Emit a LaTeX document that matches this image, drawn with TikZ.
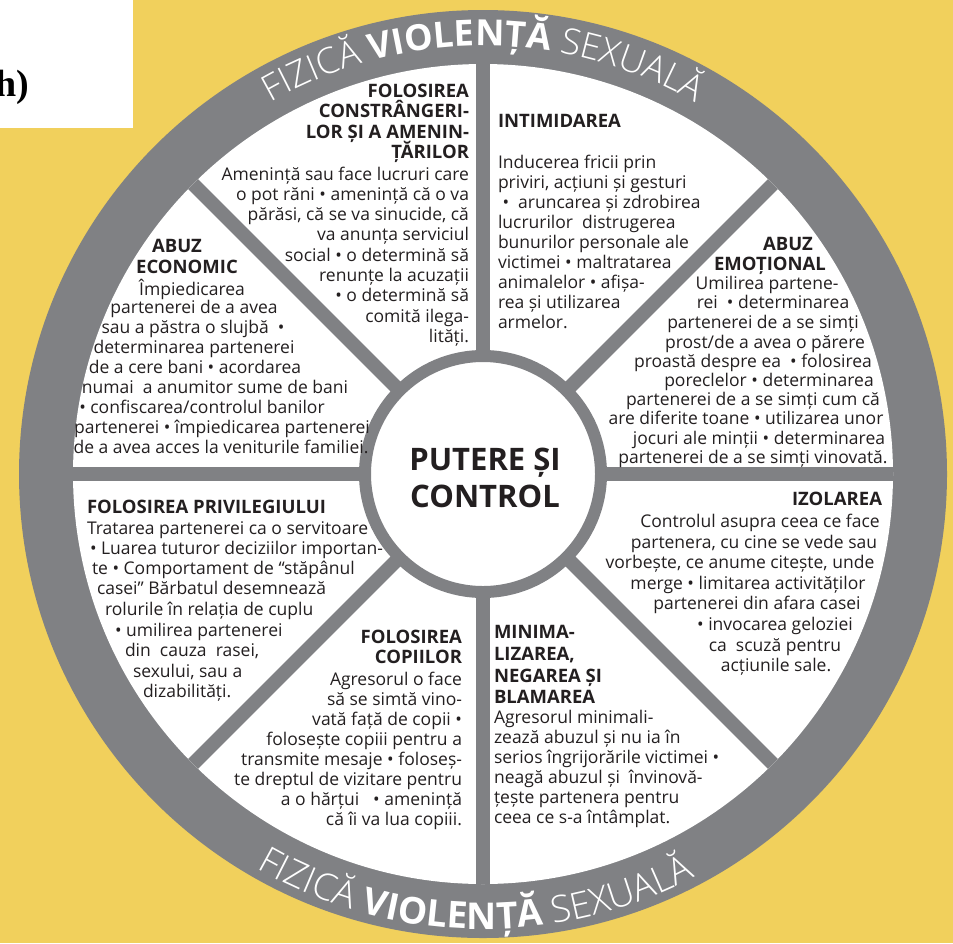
\documentclass[tikz,border=0pt]{standalone}
\usepackage{fontspec}
\setmainfont{Open Sans}
\newfontfamily\serifh{Liberation Serif}
\IfFontExistsTF{Open Sans Light}{\newfontfamily\ringlightfam{Open Sans Light}}{\newfontfamily\ringlightfam{Open Sans}}
\usetikzlibrary{decorations.text}
\definecolor{bgyellow}{RGB}{241,208,92}
\definecolor{ringgray}{RGB}{128,129,132}
\definecolor{ink}{RGB}{35,31,32}
\newcommand\ringL{\ringlightfam\fontsize{36}{36}\selectfont}
\newcommand\ringB{\normalfont\fontsize{36}{36}\selectfont\bfseries}
\newcommand\ringLL{\ringlightfam\fontsize{37}{37}\selectfont}
\newcommand\ringBB{\normalfont\fontsize{37}{37}\selectfont\bfseries}
\begin{document}
\begin{tikzpicture}[x=1pt,y=1pt,
  bd/.style={font=\fontsize{17.5}{20}\selectfont, text=ink, inner sep=0pt, outer sep=0pt},
  hd/.style={font=\fontsize{18.5}{20}\selectfont\bfseries, text=ink, inner sep=0pt, outer sep=0pt},
  spoke/.style={draw=ringgray, line width=14pt},
  ringtop/.style={decorate, decoration={text along path, text align=center, text color=white,
     text={|\ringL|FIZICĂ |\ringB|VIOLENȚĂ |\ringL|SEXUALĂ}}},
  ringbot/.style={decorate, decoration={text along path, text align=center, text color=white,
     text={|\ringLL|FIZICĂ |\ringBB|VIOLENȚĂ |\ringLL|SEXUALĂ}}}
]
\useasboundingbox (0,0) rectangle (953,-943);
\fill[bgyellow] (0,0) rectangle (953,-943);
\fill[white] (0,0) rectangle (133,-128);
\begin{scope}
\clip (0,0) rectangle (133,-128);
\node[font=\serifh\bfseries\fontsize{38}{40}\selectfont, anchor=base east, inner sep=0pt] (hlabel) at (29,-96) {h)};
\end{scope}
\coordinate (C) at (483,-474);
\fill[ringgray] (C) circle (464);
\fill[white] (C) circle (410);
\foreach \a in {0,45,90,135}
  \draw[spoke] ([shift={(\a:410)}]C) -- ([shift={(\a+180:410)}]C);
\node[circle, draw=ringgray, line width=12pt, fill=white, minimum size=236pt, inner sep=0pt] (core) at (C) {};
\node[font=\bfseries\fontsize{31}{37}\selectfont, text=ink, align=center, inner sep=0pt] (title) at (485,-478) {PUTERE ȘI\\CONTROL};

% ring texts
\path[ringtop] ([shift={(160:428)}]C) arc[start angle=160, end angle=20, radius=428];
\path[ringbot] ([shift={(199:455)}]C) arc[start angle=199, end angle=339, radius=455];

% sector 1: constrangeri
\foreach \t [count=\i] in {FOLOSIREA, CONSTRÂNGERI-, LOR ȘI A AMENIN-, ȚĂRILOR}
  \node[hd, anchor=base east] (ch\i) at (469,{-97-20.6*(\i-1)}) {\t};
\foreach \t [count=\i] in {{Amenință sau face lucruri care},{o pot răni • amenință că o va},{părăsi, că se va sinucide, că},{va anunța serviciul},{social • o determină să},{renunțe la acuzații},{• o determină să},{comită ilega-},{lități.}}
  \node[bd, anchor=base east] (cb\i) at (469,{-180-20.3*(\i-1)}) {\t};

% sector 2: intimidarea
\node[hd, anchor=base west] (ih) at (498,-127) {INTIMIDAREA};
\foreach \t [count=\i] in {{Inducerea fricii prin},{priviri, acțiuni și gesturi},{~•~ aruncarea și zdrobirea},{lucrurilor~ distrugerea},{bunurilor personale ale},{victimei • maltratarea},{animalelor • afișa-},{rea și utilizarea},{armelor.}}
  \node[bd, anchor=base west] (ib\i) at (498,{-168-20*(\i-1)}) {\t};

% sector 3: abuz emotional
\node[hd, anchor=base] (eh1) at (788,-250) {ABUZ};
\node[hd, anchor=base] (eh2) at (770,-270) {EMOȚIONAL};
\foreach \x/\y/\t [count=\i] in {767/289/{Umilirea partene-},773/308/{rei~ • determinarea},763/328/{partenerei de a se simți},765/348/{prost/de a avea o părere},753/367/{proastă despre ea~ • folosirea},769/386/{poreclelor • determinarea},753/405/{partenerei de a se simți cum că},746/424/{are diferite toane • utilizarea unor},759/444/{jocuri ale minții • determinarea},753/463/{partenerei de a se simți vinovată.}}
  \node[bd, anchor=base] (eb\i) at (\x,-\y) {\t};

% sector 4: izolarea
\node[hd, anchor=base east] (zh) at (882,-505) {IZOLAREA};
\foreach \x/\y/\t [count=\i] in {760/527/{Controlul asupra ceea ce face},754/548/{partenera, cu cine se vede sau},740/568/{vorbește, ce anume citește, unde},748/589/{merge • limitarea activităților},757/609/{partenerei din afara casei},775/630/{• invocarea geloziei},775/651/{ca~ scuză pentru},776/671/{acțiunile sale.}}
  \node[bd, anchor=base] (zb\i) at (\x,-\y) {\t};

% sector 5: minimalizarea
\foreach \y/\t [count=\i] in {638/{MINIMA-},660/{LIZAREA,},682/{NEGAREA ȘI},703/{BLAMAREA}}
  \node[hd, anchor=base west] (mh\i) at (494,-\y) {\t};
\foreach \t [count=\i] in {{Agresorul minimali-},{zează abuzul și nu ia în},{serios îngrijorările victimei •},{neagă abuzul și~ învinovă-},{țește partenera pentru},{ceea ce s-a întâmplat.}}
  \node[bd, anchor=base west] (mb\i) at (494,{-723-20*(\i-1)}) {\t};

% sector 6: copiii
\node[hd, anchor=base east] (ph1) at (462,-643) {FOLOSIREA};
\node[hd, anchor=base east] (ph2) at (462,-663) {COPIILOR};
\foreach \t [count=\i] in {{Agresorul o face},{să se simtă vino-},{vată față de copii •},{folosește copiii pentru a},{transmite mesaje • foloseș-},{te dreptul de vizitare pentru},{a o hărțui\hspace{14pt}• amenință},{că îi va lua copiii.}}
  \node[bd, anchor=base east] (pb\i) at (462,{-685-20*(\i-1)}) {\t};

% sector 7: privilegiu
\node[hd, anchor=base west] (vh) at (87,-513) {FOLOSIREA PRIVILEGIULUI};
\foreach \x/\y/\t [count=\i] in {87/534/{Tratarea partenerei ca o servitoare},90/554/{• Luarea tuturor deciziilor importan-},92/574/{te • Comportament de “stăpânul},97/594/{casei” Bărbatul desemnează},105/615/{rolurile în relația de cuplu},115/636/{• umilirea partenerei},125/656/{din~ cauza~ rasei,},133/677/{sexului, sau a},143/697/{dizabilități.}}
  \node[bd, anchor=base west] (vb\i) at (\x,-\y) {\t};

% sector 8: abuz economic
\node[hd, anchor=base] (oh1) at (177,-252) {ABUZ};
\node[hd, anchor=base] (oh2) at (187,-273) {ECONOMIC};
\foreach \x/\y/\t [count=\i] in {192/295/{Împiedicarea},194/313/{partenerei de a avea},193/333/{sau a păstra o slujbă~ •},194/353/{determinarea partenerei},195/373/{de a cere bani • acordarea},215/393/{numai~ a anumitor sume de bani},202/413/{• confiscarea/controlul banilor},222/433/{partenerei • împiedicarea partenerei},221/453/{de a avea acces la veniturile familiei.}}
  \node[bd, anchor=base] (ob\i) at (\x,-\y) {\t};
\end{tikzpicture}
\end{document}
